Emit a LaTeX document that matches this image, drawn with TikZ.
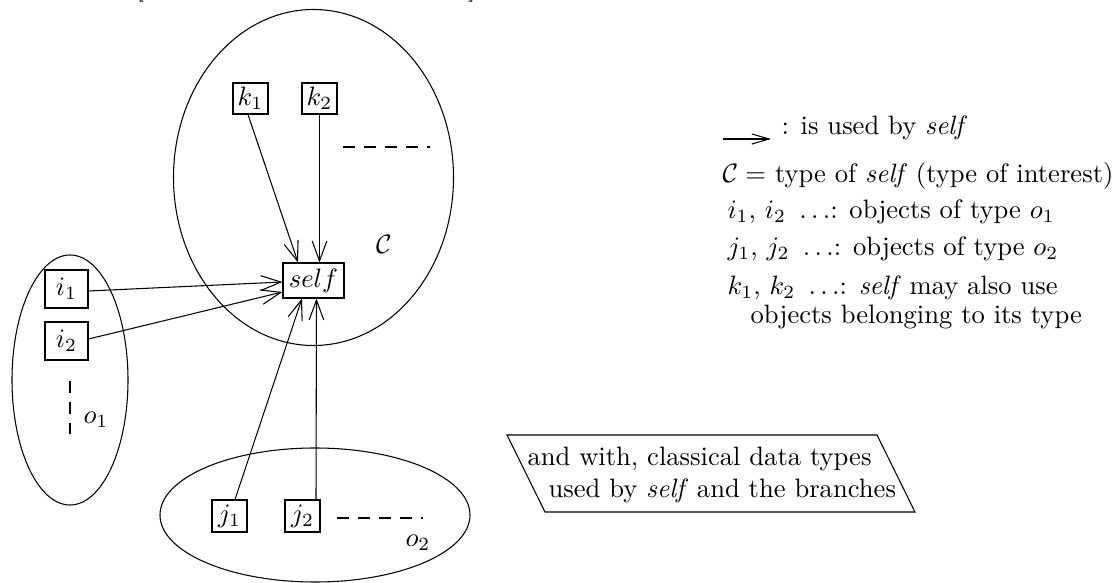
\documentclass[tikz,border=0pt]{standalone}
\usetikzlibrary{arrows.meta,calc}
\tikzset{
  obj/.style={draw, inner sep=0pt, minimum width=13.16pt, minimum height=11.66pt},
  iobj/.style={obj, minimum width=16.17pt, minimum height=14.29pt},
  jobj/.style={obj, minimum height=12.03pt},
  selfbox/.style={obj, minimum width=22.94pt, minimum height=13.16pt},
  usearrow/.style={-{Straight Barb[length=7.5pt,width=5.5pt]}},
  legarrow/.style={-{Straight Barb[length=6.5pt,width=3.8pt]}},
  dashline/.style={dash pattern=on 4.5pt off 3.4pt},
  lbl/.style={inner sep=0pt},
  legtext/.style={anchor=base west, inner sep=0pt}
}
\begin{document}
\begin{tikzpicture}[x=0.376pt,y=-0.376pt]
\useasboundingbox (0,0) rectangle (1117,583);
% clipped remnants of text at the top edge
\begin{scope}
\clip (0,0) rectangle (1117,583);
\node[legtext] (topA) at (136,-4.6) {[};
\node[anchor=base, inner sep=0pt] (topB) at (256,-4.6) {,};
\node[anchor=base, inner sep=0pt] (topC) at (368,-4.6) {,};
\node[anchor=base east, inner sep=0pt] (topD) at (476,-4.6) {]};
\end{scope}
% ellipses
\draw (313.5,177.5) ellipse [x radius=140, y radius=168];
\draw (70,380) ellipse [x radius=58, y radius=125];
\draw (315,515) ellipse [x radius=155, y radius=67];
% objects
\node[obj] (k1) at (250.5,98.5) {$k_1$};
\node[obj] (k2) at (319.5,98.5) {$k_2$};
\node[selfbox] (self) at (313.5,280.5) {$self$};
\node[iobj] (i1) at (66.5,289) {$i_1$};
\node[iobj] (i2) at (66.5,341) {$i_2$};
\node[jobj] (j1) at (229.5,516) {$j_1$};
\node[jobj] (j2) at (302.5,516) {$j_2$};
% connectors
\draw[usearrow] ($(k1.south)+(-2.5,0)$) -- ($(self.north)+(-15.5,0)$);
\draw[usearrow] ($(k2.south)+(0,0)$) -- ($(self.north)+(6,0)$);
\draw[usearrow] ($(i1.east)+(0,2)$) -- ($(self.west)+(0,1.5)$);
\draw[usearrow] ($(i2.east)+(0,-2)$) -- ($(self.west)+(0,11.5)$);
\draw[usearrow] ($(j1.north)+(5.5,0)$) -- ($(self.south)+(-11.5,0)$);
\draw[usearrow] ($(j2.north)+(13.5,0)$) -- ($(self.south)+(3,0)$);
% dashed continuations
\draw[dashline] (343,147) -- (430,147);
\draw[dashline] (70,381) -- (70,434);
\draw[dashline] (337,518) -- (423,518);
% set labels
\node[lbl] (C) at (384,244) {$\mathcal{C}$};
\node[lbl] (o1) at (96,420) {$o_1$};
\node[lbl] (o2) at (418,543) {$o_2$};
% legend
\coordinate (legA) at (723,139);
\coordinate (legB) at (771,139);
\draw[legarrow] (legA) -- (legB);
\node[legtext] (leg1) at (781,135) {: is used by \textit{self}};
\node[legtext] (leg2) at (722,183) {$\mathcal{C} =$ type of \textit{self} (type of interest)};
\node[legtext] (leg3) at (727,219) {$i_1$, $i_2$ \,$\ldots$: objects of type $o_1$};
\node[legtext] (leg4) at (727,256) {$j_1$, $j_2$ \,$\ldots$: objects of type $o_2$};
\node[legtext] (leg5) at (727,295) {$k_1$, $k_2$ \,$\ldots$: \textit{self} may also use};
\node[legtext] (leg6) at (750,324) {objects belonging to its type};
% note box
\draw (507,435) -- (877,435) -- (915,512) -- (545,512) -- cycle;
\node[legtext] (note1) at (527,466) {and with, classical data types};
\node[legtext] (note2) at (548,498) {used by \textit{self} and the branches};
\end{tikzpicture}
\end{document}
